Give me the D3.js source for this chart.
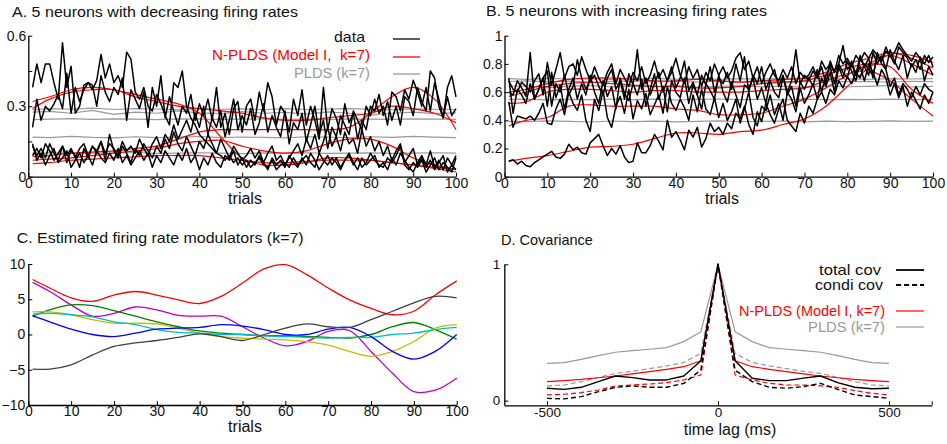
<!DOCTYPE html>
<html><head><meta charset="utf-8">
<script src="https://cdn.jsdelivr.net/npm/d3@7"></script>
<style>body{margin:0;background:#fff}svg{display:block}</style>
</head><body>
<svg id="c" width="947" height="444"></svg>
<script>
// ---------- DATA ----------
const trials = d3.range(1, 101);
const sparseT = [1,5,10,15,20,25,30,35,40,45,50,55,60,65,70,75,80,85,90,95,100];

// Panel A: black data (5 neurons, decreasing)
const dataA1 = [0.38,0.48,0.40,0.48,0.48,0.40,0.33,0.57,0.38,0.47,0.27,0.30,0.39,0.40,0.37,0.41,0.52,0.42,0.48,0.40,0.43,0.38,0.53,0.50,0.36,0.33,0.38,0.30,0.28,0.35,0.31,0.26,0.22,0.40,0.38,0.45,0.30,0.25,0.22,0.18,0.16,0.14,0.12,0.10,0.09,0.07,0.09,0.06,0.08,0.05,0.07,0.04,0.06,0.08,0.05,0.04,0.07,0.03,0.05,0.06,0.04,0.08,0.05,0.07,0.09,0.06,0.04,0.10,0.07,0.05,0.08,0.06,0.03,0.07,0.09,0.05,0.08,0.04,0.06,0.10,0.07,0.05,0.04,0.08,0.06,0.09,0.13,0.05,0.03,0.06,0.04,0.07,0.02,0.05,0.08,0.03,0.06,0.04,0.02,0.08];
const dataA2 = [0.21,0.33,0.24,0.30,0.28,0.31,0.35,0.29,0.44,0.27,0.38,0.32,0.37,0.40,0.39,0.30,0.43,0.36,0.32,0.38,0.35,0.42,0.24,0.37,0.33,0.29,0.36,0.21,0.38,0.30,0.43,0.25,0.34,0.28,0.22,0.30,0.27,0.35,0.24,0.31,0.26,0.33,0.24,0.38,0.21,0.27,0.18,0.29,0.32,0.19,0.30,0.33,0.24,0.36,0.28,0.40,0.34,0.22,0.30,0.27,0.19,0.33,0.26,0.37,0.22,0.30,0.24,0.16,0.38,0.20,0.29,0.25,0.18,0.31,0.23,0.27,0.16,0.24,0.20,0.30,0.28,0.35,0.26,0.32,0.24,0.30,0.22,0.34,0.32,0.26,0.38,0.32,0.28,0.45,0.42,0.30,0.25,0.38,0.43,0.34];
const dataA3 = [0.13,0.09,0.12,0.08,0.14,0.10,0.07,0.13,0.09,0.12,0.08,0.12,0.14,0.09,0.13,0.11,0.15,0.10,0.14,0.12,0.09,0.15,0.11,0.13,0.10,0.16,0.12,0.09,0.14,0.17,0.12,0.18,0.15,0.22,0.16,0.20,0.24,0.19,0.27,0.21,0.30,0.18,0.25,0.21,0.28,0.17,0.24,0.33,0.20,0.26,0.22,0.29,0.18,0.23,0.31,0.19,0.26,0.21,0.17,0.28,0.14,0.23,0.20,0.27,0.15,0.22,0.30,0.18,0.24,0.12,0.21,0.17,0.26,0.22,0.18,0.28,0.24,0.20,0.30,0.26,0.33,0.27,0.30,0.22,0.36,0.34,0.28,0.37,0.33,0.41,0.36,0.30,0.38,0.28,0.40,0.33,0.25,0.34,0.26,0.29];
const dataA4 = [0.09,0.12,0.08,0.14,0.11,0.07,0.10,0.13,0.06,0.11,0.09,0.04,0.12,0.08,0.13,0.10,0.15,0.07,0.18,0.11,0.08,0.13,0.10,0.06,0.12,0.09,0.14,0.11,0.08,0.13,0.10,0.16,0.12,0.19,0.14,0.11,0.17,0.13,0.09,0.15,0.12,0.18,0.14,0.10,0.16,0.12,0.08,0.13,0.10,0.07,0.09,0.12,0.08,0.11,0.06,0.10,0.13,0.07,0.09,0.05,0.08,0.11,0.14,0.09,0.16,0.12,0.18,0.10,0.15,0.21,0.13,0.17,0.11,0.19,0.14,0.16,0.10,0.20,0.13,0.17,0.11,0.15,0.09,0.13,0.07,0.11,0.14,0.06,0.09,0.12,0.05,0.08,0.04,0.07,0.03,0.06,0.09,0.02,0.05,0.03];
const dataA5 = [0.14,0.07,0.10,0.05,0.09,0.12,0.06,0.08,0.11,0.04,0.07,0.10,0.06,0.09,0.05,0.11,0.08,0.06,0.10,0.07,0.12,0.06,0.09,0.05,0.08,0.11,0.07,0.10,0.04,0.09,0.06,0.11,0.08,0.05,0.10,0.07,0.12,0.06,0.09,0.03,0.08,0.05,0.10,0.06,0.04,0.09,0.07,0.11,0.05,0.08,0.04,0.07,0.05,0.09,0.06,0.03,0.08,0.05,0.07,0.04,0.09,0.06,0.04,0.08,0.05,0.10,0.07,0.03,0.06,0.09,0.05,0.08,0.04,0.07,0.10,0.06,0.03,0.08,0.05,0.07,0.09,0.04,0.06,0.03,0.08,0.05,0.10,0.07,0.04,0.02,0.06,0.09,0.05,0.11,0.04,0.07,0.03,0.08,0.05,0.09];
// Panel A: N-PLDS fits (red), at sparseT
const nplA1 = [0.32,0.34,0.37,0.38,0.37,0.35,0.33,0.31,0.27,0.17,0.08,0.05,0.05,0.06,0.08,0.08,0.07,0.06,0.05,0.04,0.03];
const nplA2 = [0.29,0.33,0.36,0.37,0.37,0.34,0.32,0.30,0.29,0.28,0.27,0.25,0.24,0.24,0.25,0.26,0.27,0.30,0.29,0.27,0.23];
const nplA3 = [0.085,0.09,0.10,0.105,0.11,0.12,0.13,0.16,0.19,0.20,0.20,0.20,0.20,0.20,0.20,0.21,0.27,0.34,0.38,0.33,0.20];
const nplA4 = [0.07,0.075,0.08,0.09,0.10,0.11,0.12,0.14,0.15,0.155,0.13,0.11,0.10,0.11,0.14,0.16,0.16,0.13,0.08,0.05,0.03];
const nplA5 = [0.055,0.06,0.07,0.075,0.08,0.085,0.09,0.09,0.09,0.08,0.07,0.06,0.06,0.065,0.07,0.07,0.07,0.06,0.05,0.035,0.02];
// Panel A: PLDS fits (gray), at sparseT
const pldA1 = [0.285,0.29,0.287,0.292,0.286,0.29,0.288,0.285,0.29,0.287,0.289,0.285,0.29,0.286,0.288,0.29,0.287,0.285,0.289,0.287,0.286];
const pldA2 = [0.275,0.278,0.27,0.282,0.265,0.275,0.27,0.28,0.272,0.268,0.277,0.27,0.274,0.266,0.276,0.27,0.262,0.27,0.275,0.268,0.272];
const pldA3 = [0.243,0.245,0.247,0.244,0.246,0.245,0.243,0.246,0.245,0.244,0.245,0.246,0.244,0.245,0.243,0.246,0.245,0.244,0.246,0.245,0.244];
const pldA4 = [0.168,0.166,0.172,0.167,0.165,0.17,0.166,0.168,0.171,0.166,0.169,0.167,0.165,0.17,0.168,0.166,0.17,0.167,0.172,0.168,0.166];
const pldA5 = [0.10,0.102,0.099,0.101,0.10,0.103,0.099,0.10,0.102,0.10,0.098,0.101,0.10,0.102,0.099,0.10,0.101,0.099,0.10,0.102,0.10];

// Panel B: black data (5 neurons, increasing)
const dataB1 = [0.11,0.12,0.09,0.11,0.08,0.07,0.10,0.12,0.14,0.16,0.18,0.14,0.13,0.16,0.23,0.19,0.21,0.17,0.16,0.24,0.27,0.30,0.22,0.15,0.20,0.16,0.22,0.14,0.10,0.11,0.24,0.17,0.17,0.22,0.30,0.25,0.19,0.40,0.28,0.32,0.26,0.19,0.33,0.28,0.35,0.21,0.27,0.38,0.32,0.35,0.30,0.38,0.34,0.45,0.41,0.50,0.37,0.30,0.46,0.39,0.52,0.44,0.38,0.48,0.55,0.40,0.36,0.32,0.45,0.38,0.50,0.45,0.55,0.60,0.52,0.62,0.58,0.68,0.63,0.71,0.66,0.74,0.70,0.80,0.76,0.72,0.85,0.82,0.89,0.86,0.80,0.92,0.88,0.84,0.78,0.83,0.76,0.86,0.81,0.85];
const dataB2 = [0.53,0.35,0.43,0.42,0.41,0.43,0.40,0.45,0.52,0.38,0.37,0.48,0.55,0.44,0.60,0.52,0.47,0.58,0.40,0.32,0.55,0.47,0.61,0.42,0.35,0.50,0.57,0.45,0.62,0.41,0.54,0.48,0.59,0.44,0.51,0.58,0.45,0.64,0.52,0.47,0.55,0.49,0.40,0.58,0.46,0.62,0.48,0.44,0.56,0.42,0.52,0.40,0.46,0.55,0.38,0.48,0.60,0.42,0.36,0.50,0.47,0.58,0.44,0.52,0.40,0.60,0.55,0.46,0.63,0.52,0.58,0.66,0.55,0.70,0.64,0.74,0.60,0.78,0.70,0.82,0.75,0.68,0.84,0.78,0.72,0.88,0.80,0.86,0.76,0.90,0.82,0.76,0.86,0.70,0.80,0.74,0.85,0.68,0.78,0.72];
const dataB3 = [0.70,0.45,0.62,0.58,0.52,0.66,0.55,0.62,0.70,0.50,0.74,0.56,0.65,0.48,0.62,0.70,0.55,0.66,0.58,0.72,0.60,0.52,0.68,0.57,0.64,0.48,0.70,0.59,0.54,0.66,0.58,0.69,0.50,0.62,0.73,0.55,0.64,0.46,0.68,0.60,0.56,0.70,0.52,0.65,0.58,0.48,0.66,0.61,0.55,0.72,0.60,0.53,0.67,0.58,0.49,0.65,0.62,0.70,0.55,0.63,0.52,0.68,0.60,0.56,0.71,0.58,0.64,0.50,0.67,0.62,0.70,0.64,0.76,0.60,0.72,0.78,0.66,0.80,0.74,0.70,0.82,0.72,0.78,0.68,0.80,0.74,0.65,0.76,0.70,0.58,0.66,0.56,0.64,0.50,0.60,0.54,0.48,0.58,0.52,0.60];
const dataB4 = [0.60,0.58,0.68,0.63,0.57,0.88,0.55,0.62,0.70,0.75,0.50,0.66,0.60,0.72,0.58,0.64,0.83,0.70,0.62,0.68,0.72,0.64,0.58,0.70,0.76,0.62,0.68,0.55,0.73,0.65,0.90,0.62,0.70,0.58,0.66,0.74,0.60,0.68,0.78,0.63,0.70,0.82,0.61,0.67,0.58,0.72,0.65,0.78,0.60,0.70,0.66,0.74,0.62,0.80,0.68,0.85,0.60,0.72,0.66,0.78,0.62,0.70,0.76,0.64,0.72,0.60,0.68,0.90,0.66,0.72,0.68,0.75,0.70,0.78,0.66,0.82,0.74,0.80,0.93,0.76,0.80,0.72,0.86,0.78,0.84,0.70,0.88,0.80,0.76,0.64,0.70,0.58,0.66,0.62,0.56,0.64,0.58,0.66,0.62,0.60];
const dataB5 = [0.68,0.62,0.60,0.67,0.64,0.60,0.68,0.73,0.58,0.81,0.65,0.76,0.88,0.70,0.78,0.80,0.72,0.85,0.76,0.68,0.78,0.70,0.65,0.74,0.80,0.66,0.76,0.70,0.64,0.74,0.68,0.78,0.66,0.72,0.82,0.70,0.76,0.68,0.74,0.84,0.72,0.66,0.78,0.70,0.76,0.64,0.74,0.68,0.80,0.72,0.78,0.70,0.75,0.84,0.88,0.76,0.82,0.70,0.78,0.66,0.74,0.80,0.72,0.68,0.76,0.70,0.78,0.66,0.74,0.70,0.72,0.78,0.70,0.82,0.76,0.80,0.74,0.86,0.80,0.84,0.78,0.86,0.82,0.88,0.84,0.90,0.86,0.82,0.92,0.85,0.88,0.95,0.90,0.86,0.82,0.88,0.84,0.80,0.86,0.78];
const nplB1 = [0.11,0.13,0.15,0.18,0.21,0.215,0.23,0.27,0.31,0.31,0.30,0.32,0.33,0.37,0.41,0.50,0.64,0.77,0.87,0.86,0.81];
const nplB2 = [0.36,0.40,0.42,0.50,0.51,0.50,0.50,0.50,0.48,0.47,0.44,0.44,0.45,0.50,0.55,0.63,0.72,0.80,0.86,0.80,0.72];
const nplB3 = [0.52,0.53,0.60,0.62,0.62,0.61,0.60,0.61,0.61,0.60,0.60,0.60,0.61,0.62,0.63,0.68,0.73,0.75,0.68,0.55,0.43];
const nplB4 = [0.57,0.60,0.64,0.66,0.67,0.66,0.65,0.64,0.64,0.63,0.63,0.64,0.66,0.67,0.68,0.72,0.77,0.80,0.78,0.62,0.52];
const nplB5 = [0.60,0.62,0.66,0.69,0.70,0.70,0.69,0.68,0.68,0.69,0.68,0.67,0.68,0.69,0.70,0.74,0.80,0.84,0.88,0.84,0.77];
const pldB1 = [0.695,0.69,0.697,0.693,0.696,0.69,0.694,0.697,0.692,0.695,0.69,0.696,0.693,0.697,0.691,0.695,0.694,0.69,0.696,0.693,0.695];
const pldB2 = [0.675,0.68,0.672,0.678,0.67,0.676,0.68,0.673,0.677,0.671,0.678,0.674,0.68,0.672,0.676,0.679,0.672,0.676,0.67,0.677,0.674];
const pldB3 = [0.64,0.645,0.632,0.64,0.648,0.636,0.643,0.638,0.646,0.633,0.64,0.645,0.637,0.642,0.634,0.644,0.638,0.641,0.647,0.636,0.64];
const pldB4 = [0.548,0.55,0.545,0.549,0.546,0.551,0.547,0.55,0.544,0.548,0.551,0.546,0.549,0.545,0.55,0.547,0.549,0.546,0.55,0.547,0.548];
const pldB5 = [0.393,0.39,0.396,0.392,0.388,0.395,0.391,0.394,0.389,0.393,0.396,0.39,0.392,0.395,0.389,0.394,0.391,0.393,0.396,0.392,0.394];

// Panel C: firing rate modulators, at sparseT
const modRed     = [7.8,6.6,5.2,4.7,5.6,6.1,5.6,4.9,4.4,5.4,7.3,9.3,9.9,8.5,6.6,4.9,3.7,2.8,3.3,5.6,7.6];
const modMagenta = [7.4,6.1,4.2,2.6,3.0,3.9,3.5,2.7,2.6,2.6,1.1,-0.5,-1.6,-1.0,0.45,0.55,-2.4,-5.5,-8.1,-7.9,-6.2];
const modGreen   = [2.6,3.5,4.2,4.1,3.4,2.6,1.8,1.1,0.5,0.2,0.0,-0.15,-0.2,-0.3,-0.4,-0.5,0.0,1.1,1.7,0.7,-0.65];
const modYellow  = [3.2,3.2,2.8,2.1,1.6,1.6,1.5,0.9,0.2,-0.3,-0.5,-0.65,-0.75,-1.0,-1.5,-2.4,-3.1,-2.4,-1.0,0.9,1.4];
const modCyan    = [2.9,3.0,2.8,2.5,1.8,1.4,0.7,0.3,0.2,0.0,0.0,-0.2,-0.3,-0.4,-0.5,-0.4,-0.4,0.0,0.2,0.7,1.0];
const modBlue    = [2.65,1.8,0.75,0.0,-0.3,0.2,0.75,0.9,1.0,1.4,1.2,0.7,0.0,0.0,0.75,1.0,-0.3,-2.4,-3.5,-2.4,0.0];
const modGray    = [-4.9,-4.9,-4.3,-2.9,-1.7,-1.2,-0.85,-0.4,0.1,-0.3,-0.85,0.0,0.9,1.5,1.1,1.0,2.1,3.3,4.5,5.4,5.2];

// Panel D: covariance vs time lag
const lags = [-500,-450,-400,-350,-300,-250,-200,-150,-100,-50,0,50,100,150,200,250,300,350,400,450,500];
const totalCov = [0.091,0.083,0.098,0.139,0.181,0.169,0.152,0.152,0.181,0.293,1.0,0.293,0.164,0.147,0.147,0.165,0.181,0.132,0.098,0.087,0.091];
const condCov  = [0.017,0.013,0.030,0.066,0.098,0.108,0.098,0.098,0.127,0.225,1.0,0.223,0.139,0.098,0.091,0.103,0.127,0.083,0.042,0.030,0.017];
const nTotal   = [0.139,0.147,0.156,0.168,0.181,0.196,0.213,0.230,0.249,0.293,1.0,0.293,0.249,0.230,0.213,0.196,0.181,0.168,0.156,0.147,0.139];
const nCond    = [0.042,0.047,0.059,0.078,0.108,0.115,0.122,0.132,0.152,0.188,1.0,0.188,0.152,0.127,0.115,0.115,0.108,0.098,0.073,0.054,0.042];
const pTotal   = [0.274,0.279,0.303,0.330,0.355,0.367,0.377,0.389,0.433,0.506,1.0,0.506,0.433,0.389,0.377,0.367,0.355,0.330,0.303,0.279,0.274];
const pCond    = [0.108,0.115,0.139,0.170,0.200,0.215,0.235,0.255,0.280,0.347,1.0,0.347,0.280,0.255,0.235,0.215,0.200,0.170,0.139,0.115,0.108];

const ticksA_y = [0, 0.15, 0.3, 0.45, 0.6];
const labelsA_y = [0, 0.3, 0.6];
const ticksB_y = [0, 0.2, 0.4, 0.6, 0.8, 1];
const ticksTrials = [0,10,20,30,40,50,60,70,80,90,100];
const ticksC_y = [-10,-5,0,5,10];
const ticksD_x = [-500, 0, 500, 625];
const ticksD_y = [0, 1];

// ---------- DRAW ----------
const svg = d3.select('#c');
const FONT = "'Liberation Sans', Arial, Helvetica, sans-serif";
const RED = '#ff0000', GRAY = '#999999';
const mcol = {r:'#ff0000', m:'#bf00bf', g:'#008000', y:'#bfbf00', c:'#00bfbf', b:'#0000ff', k:'#404040'};

function styleAxis(g, fs) {
  g.attr('font-family', FONT).attr('font-size', fs || 14);
  g.select('.domain').attr('stroke', '#000').attr('stroke-width', 1.3);
  g.selectAll('.tick line').attr('stroke', '#000').attr('stroke-width', 1);
  g.selectAll('.tick text').attr('fill', '#111');
}
function text(x, y, s, opt) {
  opt = opt || {};
  const t = svg.append('text').attr('x', x).attr('y', y).text(s)
    .attr('font-family', FONT).attr('font-size', opt.fs || 15)
    .attr('fill', opt.fill || '#111')
    .attr('text-anchor', opt.anchor || 'start');
  if (opt.len) t.attr('textLength', opt.len).attr('lengthAdjust', 'spacingAndGlyphs');
  return t;
}
function drawLine(xs, ys, x, y, color, w, curve, dash) {
  const pts = xs.map((d, i) => [d, ys[i]]);
  const p = svg.append('path').datum(pts)
    .attr('fill', 'none').attr('stroke', color).attr('stroke-width', w)
    .attr('stroke-linejoin', 'round')
    .attr('d', d3.line().x(d => x(d[0])).y(d => y(d[1])).curve(curve || d3.curveLinear));
  if (dash) p.attr('stroke-dasharray', dash);
  return p;
}

// Panel A
{
  const x = d3.scaleLinear().domain([0, 100]).range([28.3, 456]);
  const y = d3.scaleLinear().domain([0, 0.6]).range([176.7, 35.7]);
  [pldA1, pldA2, pldA3, pldA4, pldA5].forEach(s => drawLine(sparseT, s, x, y, GRAY, 1.2, d3.curveLinear));
  [nplA1, nplA2, nplA3, nplA4, nplA5].forEach(s => drawLine(sparseT, s, x, y, RED, 1.2, d3.curveCatmullRom));
  [dataA1, dataA2, dataA3, dataA4, dataA5].forEach(s => drawLine(trials, s, x, y, '#000', 1.5));
  const ga = svg.append('g').attr('transform', 'translate(0,176.7)')
    .call(d3.axisBottom(x).tickValues(ticksTrials).tickSize(-4).tickSizeOuter(0).tickPadding(1));
  styleAxis(ga);
  const gy = svg.append('g').attr('transform', 'translate(28.3,0)')
    .call(d3.axisLeft(y).tickValues(ticksA_y).tickSize(-4).tickSizeOuter(0).tickPadding(2)
      .tickFormat(d => labelsA_y.includes(d) ? d3.format('~g')(d) : ''));
  styleAxis(gy);
  text(12, 17, 'A. 5 neurons with decreasing firing rates', {len: 286});
  text(245, 204, 'trials', {fs: 16, anchor: 'middle'});
  // legend
  text(365, 41.7, 'data', {fs: 14.5, anchor: 'end', len: 31});
  text(370, 59.5, 'N-PLDS (Model I,\u00a0 k=7)', {fs: 14.5, anchor: 'end', fill: RED, len: 158});
  text(370, 78, 'PLDS (k=7)', {fs: 14.5, anchor: 'end', fill: GRAY, len: 76});
  [[39, '#333', 1.6], [57, RED, 1.3], [74, GRAY, 1.3]].forEach(([yy, c, w]) =>
    svg.append('line').attr('x1', 393).attr('x2', 420).attr('y1', yy).attr('y2', yy).attr('stroke', c).attr('stroke-width', w));
}

// Panel B
{
  const x = d3.scaleLinear().domain([0, 100]).range([504.5, 933]);
  const y = d3.scaleLinear().domain([0, 1]).range([176.7, 35.7]);
  [pldB1, pldB2, pldB3, pldB4, pldB5].forEach(s => drawLine(sparseT, s, x, y, GRAY, 1.2, d3.curveLinear));
  [nplB1, nplB2, nplB3, nplB4, nplB5].forEach(s => drawLine(sparseT, s, x, y, RED, 1.2, d3.curveCatmullRom));
  [dataB1, dataB2, dataB3, dataB4, dataB5].forEach(s => drawLine(trials, s, x, y, '#000', 1.5));
  const ga = svg.append('g').attr('transform', 'translate(0,176.7)')
    .call(d3.axisBottom(x).tickValues(ticksTrials).tickSize(-4).tickSizeOuter(0).tickPadding(1));
  styleAxis(ga);
  const gy = svg.append('g').attr('transform', 'translate(504.5,0)')
    .call(d3.axisLeft(y).tickValues(ticksB_y).tickSize(-4).tickSizeOuter(0).tickPadding(2).tickFormat(d3.format('~g')));
  styleAxis(gy);
  text(486, 16, 'B. 5 neurons with increasing firing rates', {len: 281});
  text(722, 204, 'trials', {fs: 16, anchor: 'middle'});
}

// Panel C
{
  const x = d3.scaleLinear().domain([0, 100]).range([28.3, 456.7]);
  const y = d3.scaleLinear().domain([-10, 10]).range([405, 264]);
  [[modRed, mcol.r], [modMagenta, mcol.m], [modGreen, mcol.g], [modYellow, mcol.y],
   [modCyan, mcol.c], [modBlue, mcol.b], [modGray, mcol.k]].forEach(([s, c]) =>
    drawLine(sparseT, s, x, y, c, 1.3, d3.curveCatmullRom));
  const ga = svg.append('g').attr('transform', 'translate(0,405)')
    .call(d3.axisBottom(x).tickValues(ticksTrials).tickSize(-4).tickSizeOuter(0).tickPadding(1));
  styleAxis(ga);
  const gy = svg.append('g').attr('transform', 'translate(28.3,0)')
    .call(d3.axisLeft(y).tickValues(ticksC_y).tickSize(-4).tickSizeOuter(0).tickPadding(3).tickFormat(d => d < 0 ? '\u2212' + (-d) : d));
  styleAxis(gy);
  text(16.7, 243, 'C. Estimated firing rate modulators (k=7)', {len: 287});
  text(245, 432, 'trials', {fs: 16, anchor: 'middle'});
}

// Panel D
{
  const x = d3.scaleLinear().domain([-625, 625]).range([504.3, 931.7]);
  const y = d3.scaleLinear().domain([-0.034, 1]).range([405.3, 264.3]);
  drawLine(lags, pTotal, x, y, GRAY, 1.2);
  drawLine(lags, pCond, x, y, GRAY, 1.2, d3.curveLinear, '5,3');
  drawLine(lags, nTotal, x, y, RED, 1.2);
  drawLine(lags, nCond, x, y, RED, 1.2, d3.curveLinear, '5,3');
  drawLine(lags, totalCov, x, y, '#000', 1.4);
  drawLine(lags, condCov, x, y, '#000', 1.4, d3.curveLinear, '5,3');
  const ga = svg.append('g').attr('transform', 'translate(0,405.3)')
    .call(d3.axisBottom(x).tickValues(ticksD_x).tickSize(-4).tickSizeOuter(0).tickPadding(2)
      .tickFormat(d => d === 625 ? '' : d));
  styleAxis(ga, 13.5);
  const gy = svg.append('g').attr('transform', 'translate(504.3,0)')
    .call(d3.axisLeft(y).tickValues(ticksD_y).tickSize(-4).tickSizeOuter(0).tickPadding(4).tickFormat(d3.format('~g')));
  styleAxis(gy, 13.5);
  text(501, 245, 'D. Covariance', {fs: 14.5});
  text(730, 435, 'time lag (ms)', {fs: 16, anchor: 'middle'});
  text(881, 275, 'total cov', {fs: 14.5, anchor: 'end', len: 62});
  text(883, 290, 'condi cov', {fs: 14.5, anchor: 'end', len: 68});
  text(885, 316, 'N-PLDS (Model I, k=7)', {fs: 14.5, anchor: 'end', fill: RED, len: 146});
  text(885, 332, 'PLDS (k=7)', {fs: 14.5, anchor: 'end', fill: GRAY, len: 77});
  [[270, '#000', 1.8, null], [285, '#000', 1.8, '5,3'], [311, RED, 1.2, null], [327, GRAY, 1.2, null]].forEach(([yy, c, w, dsh]) => {
    const l = svg.append('line').attr('x1', 896).attr('x2', 924).attr('y1', yy).attr('y2', yy).attr('stroke', c).attr('stroke-width', w);
    if (dsh) l.attr('stroke-dasharray', dsh);
  });
}
</script>
</body></html>
